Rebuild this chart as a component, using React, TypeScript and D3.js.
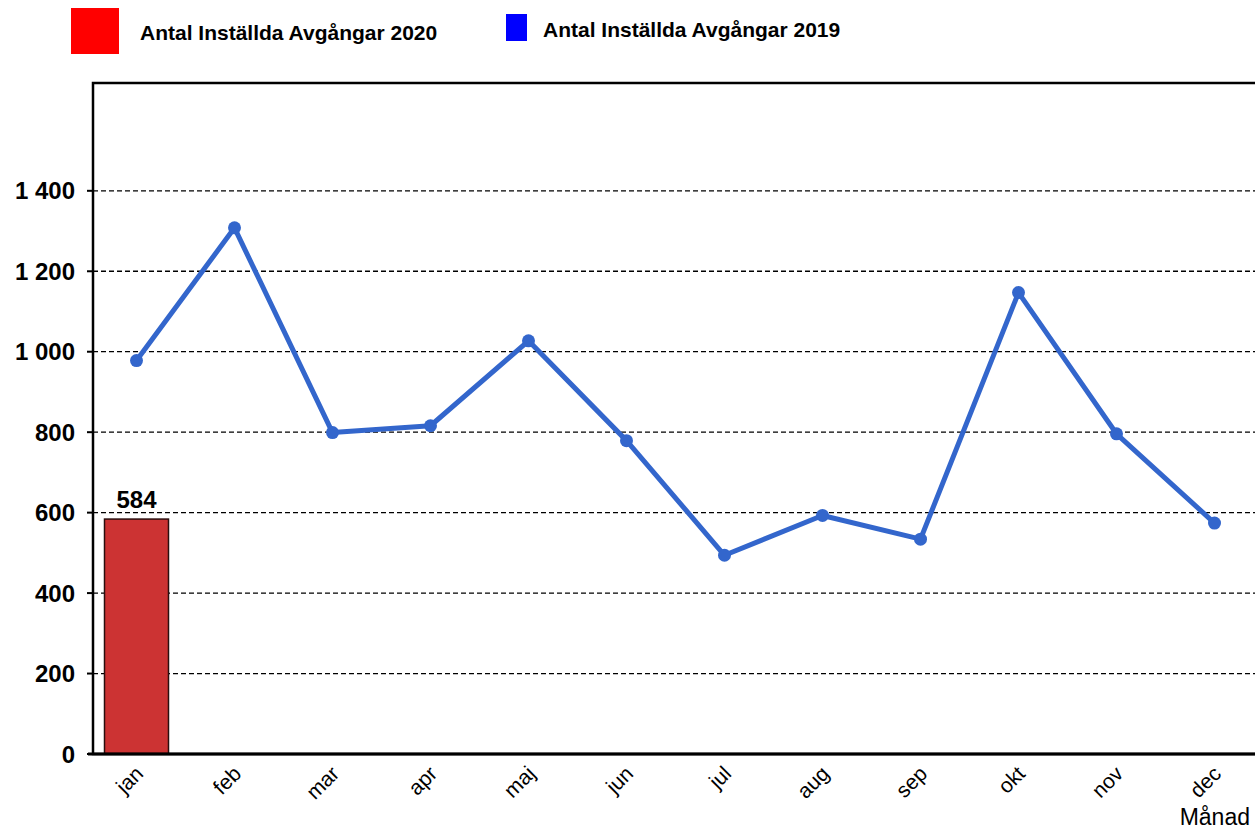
import React, { useRef, useEffect } from 'react';
import * as d3 from 'd3';

const months = ['jan', 'feb', 'mar', 'apr', 'maj', 'jun', 'jul', 'aug', 'sep', 'okt', 'nov', 'dec'];
const cancelled2019 = [978, 1308, 799, 816, 1027, 779, 494, 593, 534, 1147, 796, 574];
const cancelled2020 = [584];
const yTicks = [0, 200, 400, 600, 800, 1000, 1200, 1400];

const legendItems = [
  { label: 'Antal Inställda Avgångar 2020', color: '#FF0000' },
  { label: 'Antal Inställda Avgångar 2019', color: '#0000FF' },
];

const FONT = 'Arial, "Liberation Sans", sans-serif';

// Swedish thousands separator (space)
const fmt = (v: number) => d3.format(',')(v).replace(/,/g, '\u00a0');

const App: React.FC = () => {
  const svgRef = useRef<SVGSVGElement>(null);
  const width = 1255;
  const height = 831;

  useEffect(() => {
    if (!svgRef.current) return;
    const svg = d3.select(svgRef.current);
    svg.selectAll('*').remove();

    const plot = { left: 93, top: 83, right: 1257, bottom: 754 };

    const x = d3.scaleBand<string>()
      .domain(months)
      .range([87.5, 1263.5])
      .paddingInner(0.347)
      .paddingOuter(0.1735);

    const y = d3.scaleLinear()
      .domain([0, 1668])
      .range([plot.bottom, plot.top]);

    const cx = (m: string) => (x(m) as number) + x.bandwidth() / 2;

    // Gridlines
    svg.append('g')
      .selectAll('line')
      .data(yTicks.filter(t => t > 0))
      .join('line')
      .attr('x1', plot.left)
      .attr('x2', plot.right)
      .attr('y1', d => y(d))
      .attr('y2', d => y(d))
      .attr('stroke', '#000')
      .attr('stroke-width', 1.3)
      .attr('stroke-dasharray', '5,3');

    // 2020 bars
    svg.append('g')
      .selectAll('rect')
      .data(cancelled2020)
      .join('rect')
      .attr('x', (d, i) => x(months[i]) as number)
      .attr('y', d => y(d))
      .attr('width', x.bandwidth())
      .attr('height', d => y(0) - y(d))
      .attr('fill', '#CC3333')
      .attr('stroke', '#2a0e0e')
      .attr('stroke-width', 1.5);

    svg.append('g')
      .selectAll('text')
      .data(cancelled2020)
      .join('text')
      .attr('x', (d, i) => cx(months[i]))
      .attr('y', d => y(d) - 11)
      .attr('text-anchor', 'middle')
      .attr('font-family', FONT)
      .attr('font-size', '24px')
      .attr('font-weight', 700)
      .attr('fill', '#000')
      .text(d => fmt(d));

    // Frame and axes
    svg.append('rect')
      .attr('x', plot.left)
      .attr('y', plot.top)
      .attr('width', plot.right - plot.left)
      .attr('height', plot.bottom - plot.top)
      .attr('fill', 'none')
      .attr('stroke', '#000')
      .attr('stroke-width', 2.5);

    svg.append('line')
      .attr('x1', plot.left - 5)
      .attr('x2', plot.right)
      .attr('y1', plot.bottom)
      .attr('y2', plot.bottom)
      .attr('stroke', '#000')
      .attr('stroke-width', 3);

    // 2019 line
    const line = d3.line<number>()
      .x((d, i) => cx(months[i]))
      .y(d => y(d));

    svg.append('path')
      .datum(cancelled2019)
      .attr('d', line)
      .attr('fill', 'none')
      .attr('stroke', '#3366CC')
      .attr('stroke-width', 5)
      .attr('stroke-linejoin', 'round');

    svg.append('g')
      .selectAll('circle')
      .data(cancelled2019)
      .join('circle')
      .attr('cx', (d, i) => cx(months[i]))
      .attr('cy', d => y(d))
      .attr('r', 6.5)
      .attr('fill', '#3366CC');

    // Y axis ticks + labels
    const yAxis = svg.append('g');
    yTicks.forEach(t => {
      yAxis.append('line')
        .attr('x1', plot.left - 6)
        .attr('x2', plot.left)
        .attr('y1', y(t))
        .attr('y2', y(t))
        .attr('stroke', '#000')
        .attr('stroke-width', 2);
      yAxis.append('text')
        .attr('x', 75)
        .attr('y', y(t))
        .attr('dy', '0.36em')
        .attr('text-anchor', 'end')
        .attr('font-family', FONT)
        .attr('font-size', '24px')
        .attr('font-weight', 700)
        .attr('fill', '#000')
        .text(fmt(t));
    });

    // X labels
    svg.append('g')
      .selectAll('text')
      .data(months)
      .join('text')
      .attr('transform', d => `translate(${cx(d) + 8},${plot.bottom + 21}) rotate(-45)`)
      .attr('text-anchor', 'end')
      .attr('font-family', FONT)
      .attr('font-size', '21px')
      .attr('fill', '#000')
      .text(d => d);

    svg.append('text')
      .attr('x', 1250)
      .attr('y', 825)
      .attr('text-anchor', 'end')
      .attr('font-family', FONT)
      .attr('font-size', '23px')
      .attr('fill', '#000')
      .text('Månad');

    // Legend
    svg.append('rect').attr('x', 71).attr('y', 8).attr('width', 48).attr('height', 46).attr('fill', legendItems[0].color);
    svg.append('text')
      .attr('x', 140).attr('y', 40)
      .attr('font-family', FONT).attr('font-size', '21px').attr('font-weight', 700)
      .text(legendItems[0].label);

    svg.append('rect').attr('x', 506).attr('y', 14).attr('width', 21).attr('height', 27).attr('fill', legendItems[1].color);
    svg.append('text')
      .attr('x', 543).attr('y', 37)
      .attr('font-family', FONT).attr('font-size', '21px').attr('font-weight', 700)
      .text(legendItems[1].label);
  }, []);

  return (
    <svg
      ref={svgRef}
      width={width}
      height={height}
      style={{ position: 'absolute', left: 0, top: 0, background: '#fff' }}
    />
  );
};

export default App;
